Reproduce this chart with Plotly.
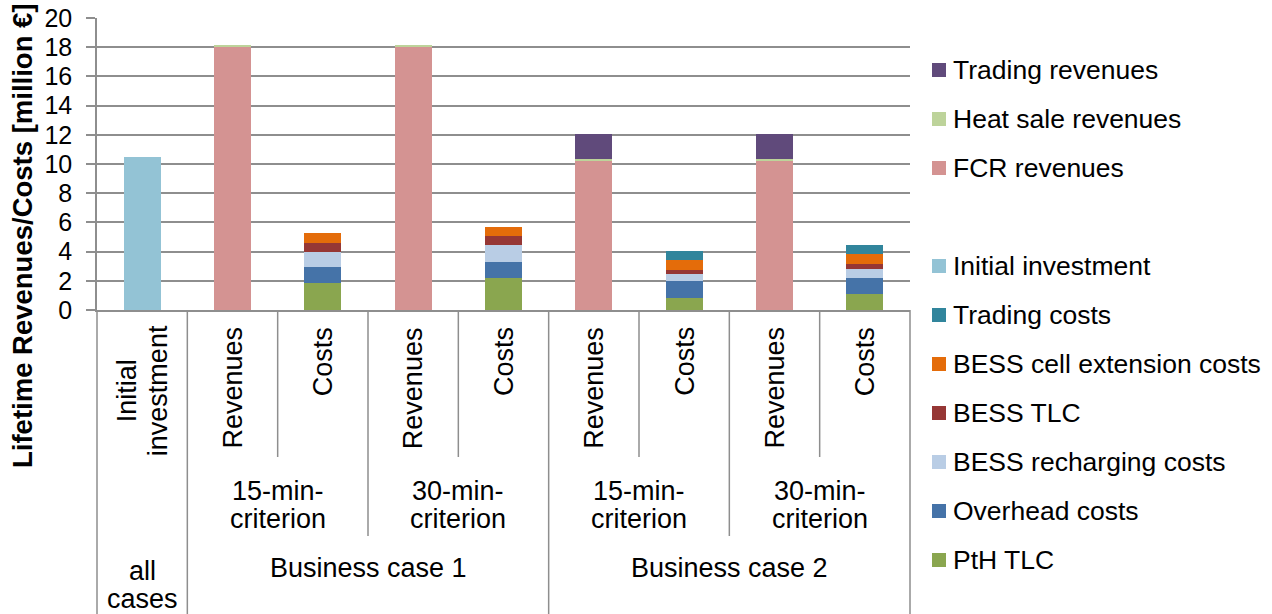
import plotly.graph_objects as go

# Category slots along the x axis (one bar per slot)
columns = [
    "Initial investment",
    "BC1 15 Revenues", "BC1 15 Costs",
    "BC1 30 Revenues", "BC1 30 Costs",
    "BC2 15 Revenues", "BC2 15 Costs",
    "BC2 30 Revenues", "BC2 30 Costs",
]
inner_labels = ["Revenues", "Costs", "Revenues", "Costs",
                "Revenues", "Costs", "Revenues", "Costs"]
criterion_labels = ["15-min-", "criterion"]
criterion_labels_30 = ["30-min-", "criterion"]
case_labels = ["Business case 1", "Business case 2"]

# Lifetime values in million EUR (stack order bottom -> top)
pth_tlc = [None, None, 1.87, None, 2.17, None, 0.84, None, 1.10]
overhead = [None, None, 1.10, None, 1.14, None, 1.15, None, 1.11]
recharging = [None, None, 1.00, None, 1.12, None, 0.48, None, 0.62]
bess_tlc = [None, None, 0.64, None, 0.64, None, 0.27, None, 0.34]
cell_ext = [None, None, 0.64, None, 0.64, None, 0.68, None, 0.69]
trading_costs = [None, None, None, None, None, None, 0.60, None, 0.61]
initial_inv = [10.5, None, None, None, None, None, None, None, None]
fcr_rev = [None, 18.0, None, 18.0, None, 10.27, None, 10.27, None]
heat_rev = [None, 0.15, None, 0.15, None, 0.05, None, 0.05, None]
trading_rev = [None, None, None, None, None, 1.73, None, 1.73, None]

series = [
    ("PtH TLC", pth_tlc, "#8AA64F"),
    ("Overhead costs", overhead, "#4573A8"),
    ("BESS recharging costs", recharging, "#B9CDE5"),
    ("BESS TLC", bess_tlc, "#963735"),
    ("BESS cell extension costs", cell_ext, "#E46C0A"),
    ("Trading costs", trading_costs, "#31859C"),
    ("Initial investment", initial_inv, "#93C3D5"),
    (None, None, None),  # empty legend slot
    ("FCR revenues", fcr_rev, "#D49392"),
    ("Heat sale revenues", heat_rev, "#BDD39A"),
    ("Trading revenues", trading_rev, "#604A7B"),
]

FONT = "Liberation Sans, Arial, sans-serif"
GRID = "#8E8E8E"
xpos = list(range(len(columns)))

fig = go.Figure()
for name, vals, color in series:
    if name is None:
        continue
    fig.add_trace(go.Bar(
        x=xpos, y=vals, name=name, showlegend=False,
        marker=dict(color=color, line=dict(width=0)),
        width=0.41, hoverinfo="name+y",
    ))

# Geometry helpers (pixel layout of the plot area)
W, H = 1272, 614
L, R, T, B = 97, 910, 18, 310
ph = B - T
pw = R - L
n = len(columns)


def py(p):
    """pixel row -> paper y"""
    return (B - p) / ph


def pxp(p):
    """pixel column -> paper x"""
    return (p - L) / pw


def edge(i):
    """boundary after slot i -> paper x"""
    return (i + 1) / n


shapes = []
annotations = []
label_font = dict(size=27, family=FONT, color="black")

# separators below the axis: (boundary after slot i, bottom pixel)
separators = [(-1, H), (0, H), (1, 457), (2, 536), (3, 457),
              (4, H), (5, 457), (6, 536), (7, 457), (8, H)]
for i, bottom in separators:
    shapes.append(dict(type="line", xref="paper", yref="paper",
                       x0=edge(i), x1=edge(i), y0=0, y1=py(bottom),
                       line=dict(color=GRID, width=1.5)))

# inner level labels (rotated)
for dx, lab in [(-0.166, "Initial"), (0.177, "investment")]:
    annotations.append(dict(x=dx, y=py(391), xref="x", yref="paper",
                            text=lab, textangle=-90, showarrow=False,
                            xanchor="center", yanchor="middle", font=label_font))
for i, lab in enumerate(inner_labels, start=1):
    annotations.append(dict(x=i, y=py(325), xref="x", yref="paper",
                            text=lab, textangle=-90, showarrow=False,
                            xanchor="center", yanchor="top", font=label_font))
# middle level labels
for cx, labs in [(1.5, criterion_labels), (3.5, criterion_labels_30),
                 (5.5, criterion_labels), (7.5, criterion_labels_30)]:
    for k, lab in enumerate(labs):
        annotations.append(dict(x=cx, y=py(490 + 28 * k), xref="x", yref="paper",
                                text=lab, showarrow=False, xanchor="center",
                                yanchor="middle", height=27, font=label_font))
# outer level labels
for k, lab in enumerate(["all", "cases"]):
    annotations.append(dict(x=0, y=py(570 + 28 * k), xref="x", yref="paper",
                            text=lab, showarrow=False, xanchor="center",
                            yanchor="middle", height=27, font=label_font))
for cx, lab in [(2.5, case_labels[0]), (6.5, case_labels[1])]:
    annotations.append(dict(x=cx, y=py(568), xref="x", yref="paper",
                            text=lab, showarrow=False, xanchor="center",
                            yanchor="middle", font=label_font))
# y axis title
annotations.append(dict(x=pxp(22), y=py(236), xref="paper", yref="paper",
                        text="<b>Lifetime Revenues/Costs [million €]</b>",
                        textangle=-90, showarrow=False,
                        xanchor="center", yanchor="middle",
                        font=dict(size=27.5, family=FONT, color="black")))

# legend: newest stack layer first, one slot left empty between groups
legend_top, legend_step = 70, 49
for k, (name, vals, color) in enumerate(reversed(series)):
    if name is None:
        continue
    yc = legend_top + legend_step * k
    shapes.append(dict(type="rect", xref="paper", yref="paper",
                       x0=pxp(932), x1=pxp(946), y0=py(yc - 7), y1=py(yc + 7),
                       fillcolor=color, line=dict(width=0)))
    annotations.append(dict(x=pxp(951), y=py(yc), xref="paper", yref="paper",
                            text=name, showarrow=False, xanchor="left",
                            yanchor="middle",
                            font=dict(size=26.5, family=FONT, color="black")))

fig.update_layout(
    width=W, height=H,
    margin=dict(l=L, r=W - R, t=T, b=H - B, pad=0, autoexpand=False),
    barmode="stack",
    paper_bgcolor="white", plot_bgcolor="white",
    font=dict(family=FONT, color="black"),
    shapes=shapes, annotations=annotations,
    showlegend=False,
    xaxis=dict(
        range=[-0.5, n - 0.5], showticklabels=False, showgrid=False,
        zeroline=False, showline=True, linecolor=GRID, linewidth=1.5,
        ticks="", fixedrange=True, automargin=False,
    ),
    yaxis=dict(
        range=[0, 20], dtick=2, tick0=0, showgrid=True, gridcolor=GRID,
        gridwidth=1.5, zeroline=False, showline=True, linecolor=GRID,
        linewidth=1.5, ticks="outside", ticklen=9, tickcolor=GRID,
        tickwidth=1.5, ticklabelstandoff=9, automargin=False,
        tickfont=dict(size=25, family=FONT, color="black"), fixedrange=True,
    ),
)

fig.write_html("out.html")
